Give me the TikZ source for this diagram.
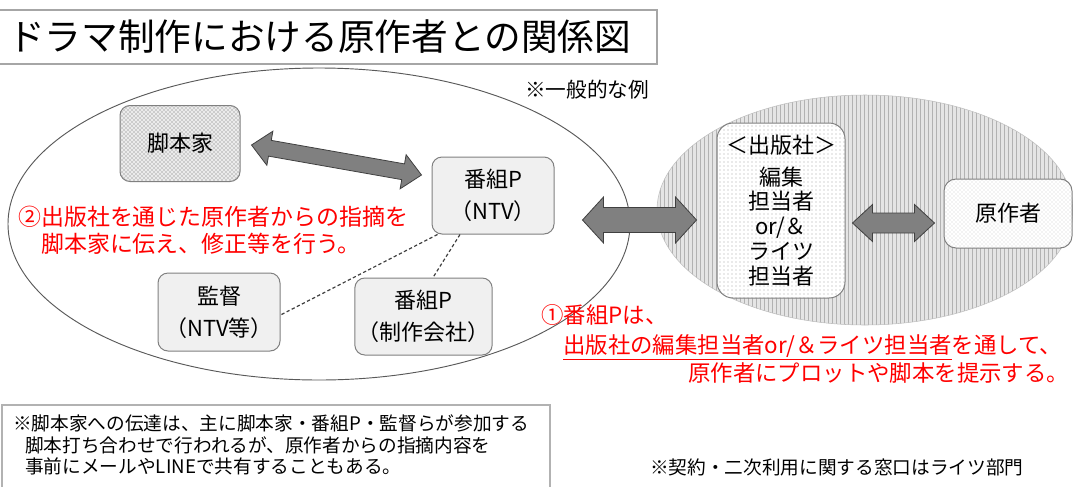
\documentclass[tikz,border=0pt]{standalone}
\usepackage{fontspec}
\setmainfont{Noto Sans CJK JP}
\usetikzlibrary{calc,patterns}

% fat double arrow: tip, tip, half shaft, half head, head length
\newcommand{\fatarrow}[5]{%
  \draw[fat] (#1)
    -- ($(#1)!#5!(#2)!#4!90:(#2)$) -- ($(#1)!#5!(#2)!#3!90:(#2)$)
    -- ($(#2)!#5!(#1)!#3!-90:(#1)$) -- ($(#2)!#5!(#1)!#4!-90:(#1)$)
    -- (#2)
    -- ($(#2)!#5!(#1)!#4!90:(#1)$) -- ($(#2)!#5!(#1)!#3!90:(#1)$)
    -- ($(#1)!#5!(#2)!#3!-90:(#2)$) -- ($(#1)!#5!(#2)!#4!-90:(#2)$)
    -- cycle;}

\begin{document}
\begin{tikzpicture}[x=0.75pt,y=-0.75pt,
    box/.style={draw=black!50, line width=0.75pt, rounded corners=7.5pt,
      align=center, inner sep=2pt, font=\fontsize{16.5}{24}\selectfont},
    greybox/.style={box, fill=black!6},
    fat/.style={draw=black!75, line width=0.6pt, fill=black!50, line join=miter},
    dashline/.style={dash pattern=on 2.5pt off 1.8pt, draw=black!75, line width=0.9pt},
    redtext/.style={color=red, anchor=west, inner sep=0pt,
      font=\fontsize{17.2}{20.25}\selectfont},
    note/.style={anchor=west, inner sep=0pt, font=\fontsize{14}{16.1}\selectfont}]
\useasboundingbox (0,0) rectangle (1073,486);

% title
\draw[black!35, line width=0.8pt] (-2,10) rectangle (657,64);
\node[anchor=west, inner sep=0pt, font=\fontsize{27.5}{30}\selectfont] (title) at (8,37) {ドラマ制作における原作者との関係図};
\node[note, font=\fontsize{15.5}{18}\selectfont] (example) at (525,90) {※一般的な例};

% drama side / publisher side
\draw[black!65, line width=0.7pt] (319,224) ellipse [x radius=233.25pt, y radius=117pt];
\path[draw=black!25, preaction={fill=black!10}, pattern=vertical lines, pattern color=black!30]
  (865,210) ellipse [x radius=156pt, y radius=86.25pt];

\node[box, preaction={fill=black!8}, pattern=crosshatch dots, pattern color=black!60,
  minimum width=90pt, minimum height=57pt] (writer) at (180,143.5) {脚本家};
\node[greybox, minimum width=91.5pt, minimum height=57.75pt] (prodN) at (493,195.5) {番組P\\（NTV）};
\node[greybox, minimum width=91.5pt, minimum height=58.5pt] (director) at (219,312) {監督\\（NTV等）};
\node[greybox, minimum width=98.25pt, minimum height=57.75pt] (prodC) at (423.5,316.5) {番組P\\（制作会社）};
\node[box, rounded corners=12pt, preaction={fill=white}, pattern=dots, pattern color=black!35,
  minimum width=96pt, minimum height=131.25pt, font=\fontsize{16.5}{18.6}\selectfont]
  (pub) at (781,210.5) {＜出版社＞\\[5pt]編集\\担当者\\or/＆\\ライツ\\担当者};
\node[box, rounded corners=9pt, preaction={fill=white}, pattern=crosshatch dots, pattern color=black!20,
  minimum width=96pt, minimum height=51.75pt] (author) at (1008,213.5) {原作者};

\path[dashline]
  ($(prodN.south west)+(6,0)$) edge ($(director.east)+(0,3)$)
  ($(prodN.south)+(-33,0)$) edge ($(prodC.north)+(9.5,0)$);

\coordinate (a1) at ($(writer.east)+(11,1.5)$);
\coordinate (a2) at ($(prodN.west)+(-10,-20.5)$);
\fatarrow{a1}{a2}{6pt}{13pt}{14pt}
\coordinate (b1) at ($(prodN.east)+(28,24.5)$);
\coordinate (b2) at ($(pub.west)+(-20,9.5)$);
\fatarrow{b1}{b2}{9.4pt}{17.25pt}{15.75pt}
\coordinate (c1) at ($(pub.east)+(7,12.5)$);
\coordinate (c2) at ($(author.west)+(-9,9.5)$);
\fatarrow{c1}{c2}{7.5pt}{13.9pt}{15pt}

% red notes
\node[redtext, align=left] (noteA) at (18,230) {②出版社を通じた原作者からの指摘を\\\hspace*{1em}脚本家に伝え、修正等を行う。};
\node[redtext, font=\fontsize{16.8}{20}\selectfont] (noteB1) at (541,315) {①番組Pは、};
\node[redtext, font=\fontsize{16.8}{20}\selectfont] (noteB2) at (563,347) {\underline{出版社の編集担当者or/＆ライツ担当者}を通して、};
\node[redtext, font=\fontsize{16.8}{20}\selectfont] (noteB3) at (688,373) {原作者にプロットや脚本を提示する。};

% bottom
\draw[black!30, line width=0.8pt] (2,405) rectangle (550,496);
\node[note, align=left] (memo) at (13,445) {※脚本家への伝達は、主に脚本家・番組P・監督らが参加する\\\hspace*{9pt}脚本打ち合わせで行われるが、原作者からの指摘内容を\\\hspace*{9pt}事前にメールやLINEで共有することもある。};
\node[note] (rights) at (650,467) {※契約・二次利用に関する窓口はライツ部門};
\end{tikzpicture}
\end{document}
